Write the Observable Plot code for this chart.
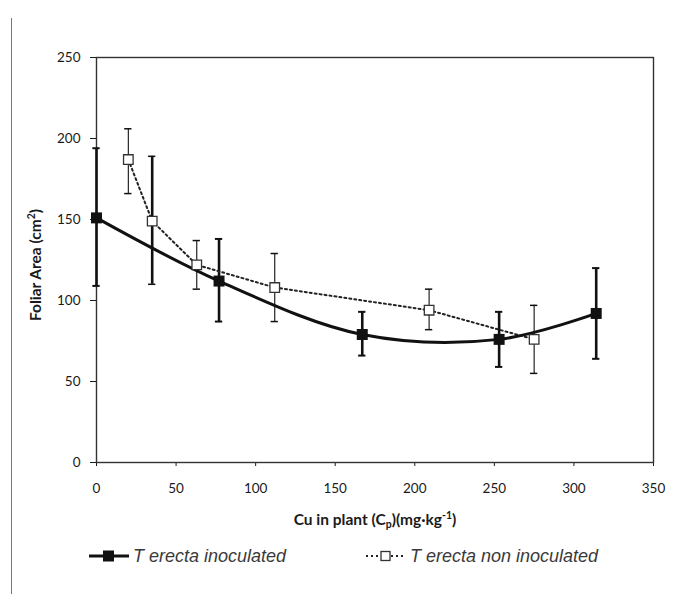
<!DOCTYPE html>
<html><head><meta charset="utf-8">
<script src="https://cdn.jsdelivr.net/npm/d3@7"></script>
<script src="https://cdn.jsdelivr.net/npm/@observablehq/plot@0.6"></script>
<style>
body{margin:0;background:#fff;}
#wrap{position:relative;width:673px;height:594px;overflow:hidden;background:#fff;}
#border{position:absolute;left:11px;top:18px;width:0;height:576px;border-left:1.5px solid #777;z-index:5;}
#chart{position:absolute;left:0;top:0;}
#legend{position:absolute;top:544px;left:0;width:673px;height:24px;font:italic 18px "Liberation Sans",Arial,sans-serif;color:#3a3a3a;}
.item{position:absolute;top:0;height:24px;display:flex;align-items:center;gap:4px;}
</style></head>
<body><div id="wrap"><div id="border"></div><div id="chart"></div><div id="legend"></div></div>
<script>
// Data
const inocX = [0, 77, 167, 253, 314];
const inocY = [151, 112, 79, 76, 92];
const inocLo = [109, 87, 66, 59, 64];
const inocHi = [194, 138, 93, 93, 120];
const nonX = [20, 35, 63, 112, 209, 275];
const nonY = [187, 149, 122, 108, 94, 76];
const nonLo = [166, 110, 107, 87, 82, 55];
const nonHi = [206, 189, 137, 129, 107, 97];
const xTicks = [0, 50, 100, 150, 200, 250, 300, 350];
const yTicks = [0, 50, 100, 150, 200, 250];
const seriesNames = ["T erecta inoculated", "T erecta non inoculated"];

const inoc = inocX.map((x, i) => ({x, y: inocY[i], lo: inocLo[i], hi: inocHi[i]}));
const non = nonX.map((x, i) => ({x, y: nonY[i], lo: nonLo[i], hi: nonHi[i]}));
const capHalf = 2.3;

const W = 673, H = 540;
const chart = Plot.plot({
  width: W, height: H,
  marginLeft: 96, marginRight: 20, marginTop: 57, marginBottom: 78,
  style: {fontFamily: "Lato, 'Open Sans', sans-serif", fontSize: "13.5px", color: "#1a1a1a", background: "transparent"},
  x: {domain: [0, 350], ticks: xTicks},
  y: {domain: [0, 250], ticks: yTicks},
  marks: [
    Plot.axisX({ticks: xTicks, tickSize: 4, tickPadding: 17, label: null}),
    Plot.axisY({ticks: yTicks, tickSize: 6, tickPadding: 10, label: null}),
    Plot.frame({stroke: "#333", strokeWidth: 1.4}),
    // non-inoculated error bars
    Plot.ruleX(non, {x: "x", y1: "lo", y2: "hi", stroke: "#111", strokeWidth: d => d.x === 35 ? 2.6 : 1.1}),
    Plot.ruleY(non, {y: "hi", x1: d => d.x - capHalf, x2: d => d.x + capHalf, stroke: "#111", strokeWidth: 1.5}),
    Plot.ruleY(non, {y: "lo", x1: d => d.x - capHalf, x2: d => d.x + capHalf, stroke: "#111", strokeWidth: 1.5}),
    // inoculated error bars
    Plot.ruleX(inoc, {x: "x", y1: "lo", y2: "hi", stroke: "#111", strokeWidth: 2.6}),
    Plot.ruleY(inoc, {y: "hi", x1: d => d.x - capHalf, x2: d => d.x + capHalf, stroke: "#111", strokeWidth: 2}),
    Plot.ruleY(inoc, {y: "lo", x1: d => d.x - capHalf, x2: d => d.x + capHalf, stroke: "#111", strokeWidth: 2}),
    // lines
    Plot.line(non, {x: "x", y: "y", stroke: "#222", strokeWidth: 2, strokeDasharray: "2,3"}),
    Plot.line(inoc, {x: "x", y: "y", curve: "catmull-rom", stroke: "#111", strokeWidth: 3}),
    // markers
    Plot.dot(non, {x: "x", y: "y", symbol: "square", r: 5.4, fill: "white", stroke: "#333", strokeWidth: 1.3}),
    Plot.dot(inoc, {x: "x", y: "y", symbol: "square", r: 6.2, fill: "#111"})
  ]
});
document.getElementById("chart").appendChild(chart);

// Axis titles with sub/superscripts
const svg = d3.select(chart);
const xt = svg.append("text")
  .attr("x", 375).attr("y", 525).attr("text-anchor", "middle")
  .attr("font-family", "Lato, 'Open Sans', sans-serif").attr("font-size", 15.5).attr("font-weight", "bold").attr("fill", "#1a1a1a");
xt.append("tspan").text("Cu in plant (C");
xt.append("tspan").attr("dy", 3).attr("font-size", 10.5).text("p");
xt.append("tspan").attr("dy", -3).text(")(mg·kg");
xt.append("tspan").attr("dy", -6).attr("font-size", 10.5).text("-1");
xt.append("tspan").attr("dy", 6).text(")");

const yt = svg.append("text")
  .attr("transform", "translate(41,265) rotate(-90)").attr("text-anchor", "middle")
  .attr("font-family", "Lato, 'Open Sans', sans-serif").attr("font-size", 15.5).attr("font-weight", "bold").attr("fill", "#1a1a1a");
yt.append("tspan").text("Foliar Area (cm");
yt.append("tspan").attr("dy", -6).attr("font-size", 10.5).text("2");
yt.append("tspan").attr("dy", 6).text(")");

// Legend below the chart
const legend = document.getElementById("legend");
const sw1 = `<svg width="40" height="14"><line x1="0" y1="7" x2="40" y2="7" stroke="#111" stroke-width="3"/><rect x="14" y="1.5" width="11" height="11" fill="#111"/></svg>`;
const sw2 = `<svg width="40" height="14"><line x1="0" y1="7" x2="40" y2="7" stroke="#222" stroke-width="2" stroke-dasharray="2,3"/><rect x="15" y="2.5" width="9" height="9" fill="white" stroke="#333" stroke-width="1.3"/></svg>`;
legend.innerHTML = `<div class="item" style="left:89px">${sw1}<span>${seriesNames[0]}</span></div>` +
  `<div class="item" style="left:366px">${sw2}<span>${seriesNames[1]}</span></div>`;
</script>
</body></html>
